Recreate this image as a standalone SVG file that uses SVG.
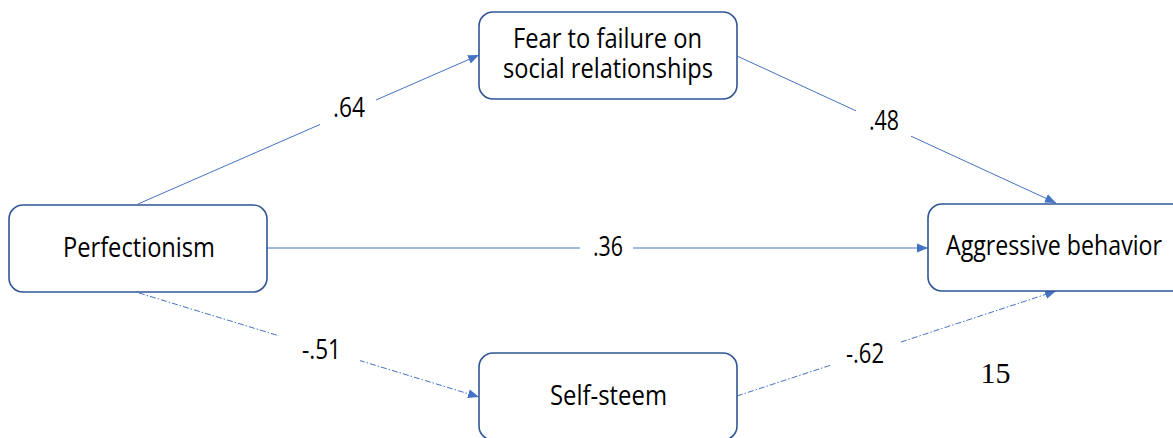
<svg xmlns="http://www.w3.org/2000/svg" width="1173" height="438" viewBox="0 0 1173 438">
<style>
.box{fill:#fff;stroke:#2F5597;stroke-width:1.6}
.t{font-family:"Open Sans","Noto Sans",sans-serif;font-size:27px;fill:#000;text-anchor:middle}
.e{stroke:#4472C4;stroke-width:1;fill:none}
.d{stroke-dasharray:6 2 1.5 2}
.bg{fill:#fff}
</style>
<defs>
<marker id="ah" markerUnits="userSpaceOnUse" markerWidth="12" markerHeight="10" refX="11" refY="5" orient="auto">
<path d="M0,0.5 L11,5 L0,9.5 z" fill="#4472C4"/>
</marker>
</defs>
<rect width="1173" height="438" fill="#fff"/>
<g id="connectors">
<line class="e" x1="138" y1="204" x2="479" y2="55" marker-end="url(#ah)"/>
<line class="e" x1="737" y1="56" x2="1056" y2="203" marker-end="url(#ah)"/>
<line class="e" x1="267" y1="248" x2="928" y2="248" marker-end="url(#ah)"/>
<line class="e d" x1="139" y1="293" x2="479" y2="397" marker-end="url(#ah)"/>
<line class="e d" x1="737" y1="396" x2="1056" y2="291" marker-end="url(#ah)"/>
<rect class="bg" x="320" y="98" width="56" height="28"/>
<rect class="bg" x="856" y="110" width="55" height="27"/>
<rect class="bg" x="580" y="236" width="53" height="24"/>
<rect class="bg" x="279" y="334" width="81" height="27"/>
<rect class="bg" x="829" y="338" width="72" height="27"/>
<text class="t" x="349" y="117" textLength="32" lengthAdjust="spacingAndGlyphs">.64</text>
<text class="t" x="884" y="130" textLength="30" lengthAdjust="spacingAndGlyphs">.48</text>
<text class="t" x="608" y="256" textLength="30" lengthAdjust="spacingAndGlyphs">.36</text>
<text class="t" x="321.5" y="359" textLength="39" lengthAdjust="spacingAndGlyphs">-.51</text>
<text class="t" x="865" y="363" textLength="38" lengthAdjust="spacingAndGlyphs">-.62</text>
</g>
<g id="fear">
<rect class="box" x="479" y="12" width="258" height="87" rx="14"/>
<text class="t" x="607.5" y="48" textLength="189" lengthAdjust="spacingAndGlyphs">Fear to failure on</text>
<text class="t" x="608" y="78" textLength="210" lengthAdjust="spacingAndGlyphs">social relationships</text>
</g>
<g id="perfectionism">
<rect class="box" x="9" y="205" width="258" height="87" rx="14"/>
<text class="t" x="139" y="257" textLength="152" lengthAdjust="spacingAndGlyphs">Perfectionism</text>
</g>
<g id="aggressive">
<rect class="box" x="928" y="204" width="258" height="87" rx="14"/>
<text class="t" x="1054" y="255" textLength="216" lengthAdjust="spacingAndGlyphs">Aggressive behavior</text>
</g>
<g id="selfsteem">
<rect class="box" x="479" y="353" width="258" height="87" rx="14"/>
<text class="t" x="608.5" y="405" textLength="117" lengthAdjust="spacingAndGlyphs">Self-steem</text>
</g>
<text x="995.5" y="383" font-family="'Liberation Serif',serif" font-size="30" text-anchor="middle" fill="#000">15</text>
</svg>
